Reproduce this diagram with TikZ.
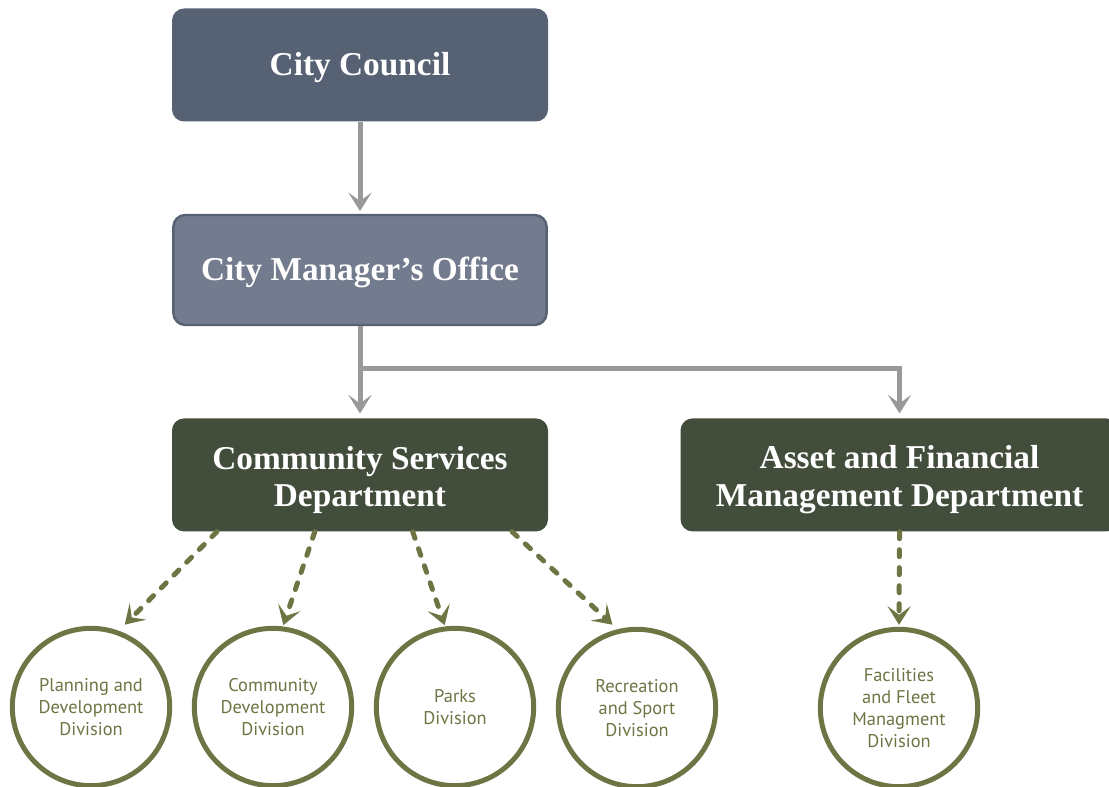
\documentclass[tikz,border=0pt]{standalone}
\usepackage{fontspec}
\setmainfont{Liberation Serif}
\newfontfamily\divfont{PT Sans}
\usetikzlibrary{positioning,arrows.meta,calc}
\definecolor{councilgray}{HTML}{566273}
\definecolor{officegray}{HTML}{737C8E}
\definecolor{deptgreen}{HTML}{434D3B}
\definecolor{olive}{HTML}{6E7443}
\definecolor{linkgray}{HTML}{999999}
\tikzset{
  council/.style={fill=councilgray, rounded corners=9pt, minimum width=282pt,
    minimum height=84.75pt, text=white, align=center,
    text height=19.5pt, text depth=3pt,
    font=\bfseries\fontsize{25}{28}\selectfont},
  office/.style={council, fill=officegray, draw=councilgray, line width=1.8pt,
    minimum width=280pt, minimum height=82.5pt},
  dept/.style={council, fill=deptgreen, text height=52.5pt, text depth=},
  division/.style={circle, draw=olive, line width=3.75pt, minimum size=118pt,
    inner sep=0pt, align=center, text=olive,
    font=\divfont\fontsize{13.8}{16.5}\selectfont},
  link/.style={draw=linkgray, line width=3.75pt, ->},
  sublink/.style={draw=olive, line width=3.75pt, line cap=round,
    dash pattern=on 5.25pt off 8.25pt, ->}
}

\begin{document}
\begin{tikzpicture}[x=0.75pt, y=-0.75pt, node distance=69pt and 99pt,
  >={Stealth[length=14pt,width=17.5pt,inset=6.5pt]}]
  \useasboundingbox (0,0) rectangle (1109,787);

  \node[council] (cc) at (360,65) {City Council};
  \node[office, below=of cc] (cm) {City Manager’s Office};
  \node[dept, below=of cm] (cs) {Community Services\\Department};
  \node[dept, right=of cs, minimum width=328.5pt] (afm) {Asset and Financial\\Management Department};

  \node[division] (plan) at (91,707) {Planning and\\Development\\Division};
  \node[division] (comdev) at (273,707) {Community\\Development\\Division};
  \node[division] (parks) at (455,707) {Parks\\Division};
  \node[division] (rec) at (637,708) {Recreation\\and Sport\\Division};
  \node[division] (fleet) at (899,708) {Facilities\\and Fleet\\Managment\\Division};

  \coordinate[below=31.5pt of cm.south] (split);

  \draw[link, shorten >=2pt] (cc) -- (cm);
  \draw[link, shorten >=3.5pt] (cm) -- (cs);
  \draw[link, shorten >=3.5pt] (split) -| (afm.north);

  \draw[sublink, shorten >=6.4pt] ($(cs.south west)!0.12!(cs.south east)$) -- (plan.70);
  \draw[sublink, shorten >=1pt] ($(cs.south west)!0.38!(cs.south east)$) -- (comdev.83);
  \draw[sublink, shorten >=1pt] ($(cs.south west)!0.64!(cs.south east)$) -- (parks.97);
  \draw[sublink, shorten >=5pt] ($(cs.south west)!0.904!(cs.south east)$) -- (rec.104.5);
  \draw[sublink, shorten >=1.5pt] (afm.south) -- (fleet.north);
\end{tikzpicture}
\end{document}
